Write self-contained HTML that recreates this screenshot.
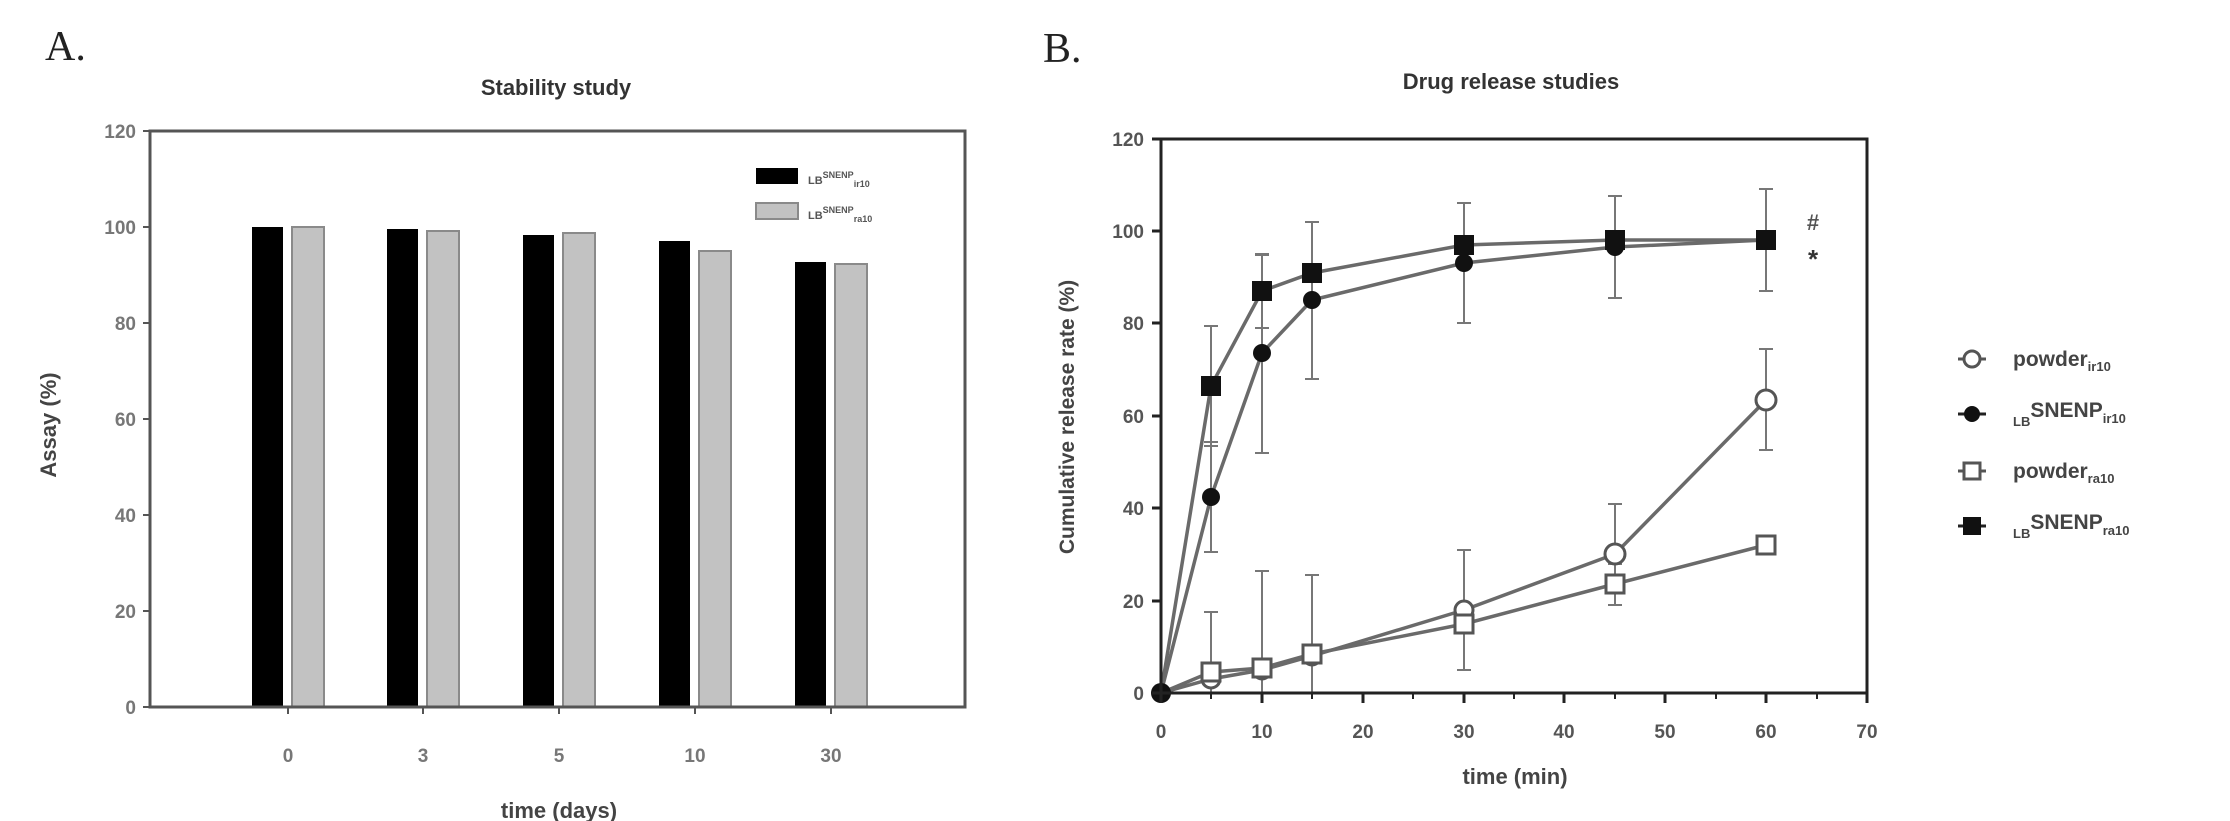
<!DOCTYPE html>
<html><head><meta charset="utf-8"><style>
html,body{margin:0;padding:0;background:#fff;}
svg{display:block;font-family:"Liberation Sans",sans-serif;}
</style></head><body>
<svg width="2230" height="821" viewBox="0 0 2230 821" xmlns="http://www.w3.org/2000/svg">
<!-- Panel A -->
<text x="45" y="60" font-family="Liberation Serif,serif" font-size="42" fill="#222">A.</text>
<text x="556" y="95" font-size="22" font-weight="bold" fill="#333" text-anchor="middle">Stability study</text>
<g fill="#000">
<rect x="252" y="227" width="31" height="480"/>
<rect x="387" y="229" width="31" height="478"/>
<rect x="523" y="235" width="31" height="472"/>
<rect x="659" y="241" width="31" height="466"/>
<rect x="795" y="262" width="31" height="445"/>
</g>
<g fill="#c2c2c2" stroke="#8a8a8a" stroke-width="2">
<rect x="292" y="227" width="32" height="480"/>
<rect x="427" y="231" width="32" height="476"/>
<rect x="563" y="233" width="32" height="474"/>
<rect x="699" y="251" width="32" height="456"/>
<rect x="835" y="264" width="32" height="443"/>
</g>
<rect x="150" y="131" width="815" height="576" fill="none" stroke="#555" stroke-width="3"/>
<g stroke="#555" stroke-width="2">
<line x1="143" y1="131" x2="150" y2="131"/><line x1="143" y1="227" x2="150" y2="227"/><line x1="143" y1="323" x2="150" y2="323"/><line x1="143" y1="419" x2="150" y2="419"/><line x1="143" y1="515" x2="150" y2="515"/><line x1="143" y1="611" x2="150" y2="611"/><line x1="143" y1="707" x2="150" y2="707"/>
<line x1="288" y1="707" x2="288" y2="714"/><line x1="423" y1="707" x2="423" y2="714"/><line x1="559" y1="707" x2="559" y2="714"/><line x1="695" y1="707" x2="695" y2="714"/><line x1="831" y1="707" x2="831" y2="714"/>
</g>
<g font-size="19" font-weight="bold" fill="#777" text-anchor="end">
<text x="136" y="138">120</text><text x="136" y="234">100</text><text x="136" y="330">80</text><text x="136" y="426">60</text><text x="136" y="522">40</text><text x="136" y="618">20</text><text x="136" y="714">0</text>
</g>
<g font-size="19" font-weight="bold" fill="#777" text-anchor="middle">
<text x="288" y="762">0</text><text x="423" y="762">3</text><text x="559" y="762">5</text><text x="695" y="762">10</text><text x="831" y="762">30</text>
</g>
<text x="559" y="818" font-size="22" font-weight="bold" fill="#444" text-anchor="middle">time (days)</text>
<text transform="translate(56,425) rotate(-90)" font-size="22" font-weight="bold" fill="#444" text-anchor="middle">Assay (%)</text>
<rect x="756" y="168" width="42" height="16" fill="#000"/>
<rect x="756" y="203" width="42" height="16" fill="#c2c2c2" stroke="#8a8a8a" stroke-width="2"/>
<text x="808" y="184" font-size="11" font-weight="bold" fill="#555">LB<tspan dy="-6" font-size="9">SNENP</tspan><tspan dy="9" font-size="9">ir10</tspan></text>
<text x="808" y="219" font-size="11" font-weight="bold" fill="#555">LB<tspan dy="-6" font-size="9">SNENP</tspan><tspan dy="9" font-size="9">ra10</tspan></text>

<!-- Panel B -->
<text x="1043" y="62" font-family="Liberation Serif,serif" font-size="42" fill="#222">B.</text>
<text x="1511" y="89" font-size="22" font-weight="bold" fill="#333" text-anchor="middle">Drug release studies</text>
<g stroke="#777" stroke-width="2" fill="none">
<path d="M1211 442V552M1204 442h14M1204 552h14"/>
<path d="M1262 255V453M1255 255h14M1255 453h14"/>
<path d="M1312 222V379M1305 222h14M1305 379h14"/>
<path d="M1464 203V323M1457 203h14M1457 323h14"/>
<path d="M1615 196V298M1608 196h14M1608 298h14"/>
<path d="M1766 189V291M1759 189h14M1759 291h14"/>
<path d="M1211 326V446M1204 326h14M1204 446h14"/>
<path d="M1262 254V328M1255 254h14M1255 328h14"/>
<path d="M1464 550V670M1457 550h14M1457 670h14"/>
<path d="M1615 504V605M1608 504h14M1608 605h14"/>
<path d="M1766 349V450M1759 349h14M1759 450h14"/>
<path d="M1211 612V693M1204 612h14"/>
<path d="M1262 571V693M1255 571h14"/>
<path d="M1312 575V693M1305 575h14"/>
<path d="M1615 564V605M1608 564h14M1608 605h14"/>
</g>
<g stroke="#6a6a6a" stroke-width="3.5" fill="none">
<polyline points="1161,693 1211,679 1262,670 1312,656 1464,610 1615,554 1766,400"/>
<polyline points="1161,693 1211,497 1262,353 1312,300 1464,263 1615,247 1766,240"/>
<polyline points="1161,693 1211,672 1262,668 1312,654 1464,624 1615,584 1766,545"/>
<polyline points="1161,693 1211,386 1262,291 1312,273 1464,245 1615,240 1766,240"/>
</g>
<g fill="#fff" stroke="#555" stroke-width="3">
<circle cx="1211" cy="679" r="9"/><circle cx="1262" cy="670" r="9"/><circle cx="1312" cy="656" r="9"/><circle cx="1464" cy="610" r="9"/><circle cx="1615" cy="554" r="10"/><circle cx="1766" cy="400" r="10"/>
<rect x="1202" y="663" width="18" height="18"/><rect x="1253" y="659" width="18" height="18"/><rect x="1303" y="645" width="18" height="18"/><rect x="1455" y="615" width="18" height="18"/><rect x="1606" y="575" width="18" height="18"/><rect x="1757" y="536" width="18" height="18"/>
</g>
<g fill="#111">
<circle cx="1161" cy="693" r="10"/>
<circle cx="1211" cy="497" r="9"/><circle cx="1262" cy="353" r="9"/><circle cx="1312" cy="300" r="9"/><circle cx="1464" cy="263" r="9"/><circle cx="1615" cy="247" r="9"/><circle cx="1766" cy="240" r="9"/>
<rect x="1201" y="376" width="20" height="20"/><rect x="1252" y="281" width="20" height="20"/><rect x="1302" y="263" width="20" height="20"/><rect x="1454" y="235" width="20" height="20"/><rect x="1605" y="230" width="20" height="20"/><rect x="1756" y="230" width="20" height="20"/>
</g>
<rect x="1161" y="139" width="706" height="554" fill="none" stroke="#222" stroke-width="3"/>
<g stroke="#222" stroke-width="3">
<line x1="1152" y1="139" x2="1161" y2="139"/><line x1="1152" y1="231" x2="1161" y2="231"/><line x1="1152" y1="323" x2="1161" y2="323"/><line x1="1152" y1="416" x2="1161" y2="416"/><line x1="1152" y1="508" x2="1161" y2="508"/><line x1="1152" y1="601" x2="1161" y2="601"/><line x1="1152" y1="693" x2="1161" y2="693"/>
<line x1="1161" y1="693" x2="1161" y2="703"/><line x1="1262" y1="693" x2="1262" y2="703"/><line x1="1363" y1="693" x2="1363" y2="703"/><line x1="1464" y1="693" x2="1464" y2="703"/><line x1="1564" y1="693" x2="1564" y2="703"/><line x1="1665" y1="693" x2="1665" y2="703"/><line x1="1766" y1="693" x2="1766" y2="703"/><line x1="1867" y1="693" x2="1867" y2="703"/>
</g>
<g stroke="#222" stroke-width="2">
<line x1="1211" y1="693" x2="1211" y2="699"/><line x1="1312" y1="693" x2="1312" y2="699"/><line x1="1413" y1="693" x2="1413" y2="699"/><line x1="1514" y1="693" x2="1514" y2="699"/><line x1="1615" y1="693" x2="1615" y2="699"/><line x1="1716" y1="693" x2="1716" y2="699"/><line x1="1817" y1="693" x2="1817" y2="699"/>
</g>
<g font-size="19" font-weight="bold" fill="#555" text-anchor="end">
<text x="1144" y="146">120</text><text x="1144" y="238">100</text><text x="1144" y="330">80</text><text x="1144" y="423">60</text><text x="1144" y="515">40</text><text x="1144" y="608">20</text><text x="1144" y="700">0</text>
</g>
<g font-size="19" font-weight="bold" fill="#555" text-anchor="middle">
<text x="1161" y="738">0</text><text x="1262" y="738">10</text><text x="1363" y="738">20</text><text x="1464" y="738">30</text><text x="1564" y="738">40</text><text x="1665" y="738">50</text><text x="1766" y="738">60</text><text x="1867" y="738">70</text>
</g>
<text x="1515" y="784" font-size="22" font-weight="bold" fill="#444" text-anchor="middle">time (min)</text>
<text transform="translate(1074,417) rotate(-90)" font-size="21" font-weight="bold" fill="#444" text-anchor="middle">Cumulative release rate (%)</text>
<text x="1813" y="230" font-size="22" font-weight="bold" fill="#555" text-anchor="middle">#</text>
<text x="1813" y="268" font-size="26" font-weight="bold" fill="#333" text-anchor="middle">*</text>
<g stroke="#555" stroke-width="3">
<line x1="1958" y1="359" x2="1986" y2="359"/>
<line x1="1958" y1="414" x2="1986" y2="414" stroke="#222"/>
<line x1="1958" y1="471" x2="1986" y2="471"/>
<line x1="1958" y1="526" x2="1986" y2="526" stroke="#222"/>
</g>
<circle cx="1972" cy="359" r="8" fill="#fff" stroke="#555" stroke-width="3"/>
<circle cx="1972" cy="414" r="8" fill="#111"/>
<rect x="1964" y="463" width="16" height="16" fill="#fff" stroke="#555" stroke-width="3"/>
<rect x="1963" y="517" width="18" height="18" fill="#111"/>
<g font-size="21" font-weight="bold" fill="#444">
<text x="2013" y="366">powder<tspan dy="5" font-size="13">ir10</tspan></text>
<text x="2013" y="426"><tspan font-size="13">LB</tspan><tspan dy="-9">SNENP</tspan><tspan dy="6" font-size="13">ir10</tspan></text>
<text x="2013" y="478">powder<tspan dy="5" font-size="13">ra10</tspan></text>
<text x="2013" y="538"><tspan font-size="13">LB</tspan><tspan dy="-9">SNENP</tspan><tspan dy="6" font-size="13">ra10</tspan></text>
</g>
</svg>
</body></html>
